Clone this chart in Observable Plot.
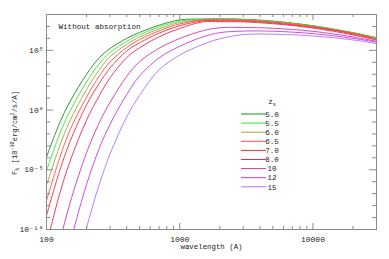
<!DOCTYPE html>
<html><head><meta charset="utf-8">
<script src="https://cdn.jsdelivr.net/npm/d3@7"></script>
<script src="https://cdn.jsdelivr.net/npm/@observablehq/plot@0.6"></script>
<style>body{margin:0;background:#fff}svg{display:block}</style>
</head><body><div id="chart"></div>
<script>
// wavelength grid (Angstrom)
const wavelengths = [100,125,150,200,250,300,400,500,700,1000,1500,2000,3000,5000,10000,20000,30000];
// source redshifts and line colours
const redshifts = ["5.0","5.5","6.0","6.5","7.0","8.0","10","12","15"];
const colors = ["#1f8a1f","#35e835","#a4a43a","#ff4d4d","#ff2a2a","#f0245a","#d236a8","#c43be6","#b070ff"];
// log10 of F_lambda for each redshift
const logF_z5_0 = [-3.94,-1.13,0.70,3.00,4.40,5.15,6.00,6.50,7.10,7.55,7.62,7.64,7.60,7.45,7.06,6.48,6.06];
const logF_z5_5 = [-5.10,-2.05,-0.10,2.36,3.90,4.82,5.75,6.31,6.95,7.44,7.60,7.61,7.58,7.42,7.04,6.47,6.04];
const logF_z6_0 = [-6.31,-3.08,-0.90,1.72,3.39,4.47,5.50,6.12,6.79,7.33,7.56,7.58,7.54,7.38,7.01,6.44,6.00];
const logF_z6_5 = [-7.57,-4.08,-1.69,1.09,2.88,4.03,5.24,5.91,6.63,7.21,7.53,7.54,7.50,7.35,6.98,6.41,5.96];
const logF_z7_0 = [-8.85,-5.15,-2.66,0.45,2.26,3.52,4.95,5.63,6.44,7.06,7.47,7.48,7.45,7.29,6.93,6.37,5.92];
const logF_z8_0 = [-11.26,-7.09,-4.30,-0.83,1.24,2.70,4.39,5.21,6.13,6.83,7.39,7.40,7.38,7.23,6.87,6.29,5.86];
const logF_z10 = [-16.11,-11.19,-7.81,-3.56,-1.01,0.65,2.82,4.05,5.18,5.99,6.65,6.89,6.91,6.85,6.59,6.12,5.76];
const logF_z12 = [-20.85,-15.19,-11.23,-6.22,-3.15,-1.19,1.30,2.86,4.37,5.34,6.13,6.48,6.61,6.60,6.40,6.00,5.68];
const logF_z15 = [-27.3,-20.58,-15.94,-9.86,-6.17,-3.68,-0.57,1.23,3.37,4.60,5.51,5.97,6.32,6.35,6.20,5.87,5.56];
const seriesLogF = [logF_z5_0,logF_z5_5,logF_z6_0,logF_z6_5,logF_z7_0,logF_z8_0,logF_z10,logF_z12,logF_z15];

// axis ticks and labels
const xMajorTicks = [100,1000,10000];
const xTickLabels = ["100","1000","10000"];
const xMinorTicks = [200,300,400,500,600,700,800,900,2000,3000,4000,5000,6000,7000,8000,9000,20000,30000];
const yMajorTicks = [1e-10,1e-5,1,1e5];
const yTickLabels = ["10\u207B\u00B9\u2070","10\u207B\u2075","10\u2070","10\u2075"];
const yMinorTicks = [1e-9,1e-8,1e-7,1e-6,1e-4,1e-3,1e-2,1e-1,1e1,1e2,1e3,1e4,1e6,1e7];

const rows = [];
redshifts.forEach((z, i) => {
  wavelengths.forEach((w, j) => rows.push({z, wavelength: w, flux: 10 ** seriesLogF[i][j]}));
});

const W = 389, H = 259, mL = 46, mR = 13, mT = 14, mB = 30;
const iW = W - mL - mR, iH = H - mT - mB;
const gray = "#8a8a8a";
const font = "Liberation Mono, DejaVu Sans Mono, monospace";

const chart = Plot.plot({
  width: W, height: H,
  marginLeft: mL, marginRight: mR, marginTop: mT, marginBottom: mB,
  style: {fontFamily: font, fontSize: "8px", color: "#222", background: "#fff"},
  x: {type: "log", domain: [100, 30000], label: null},
  y: {type: "log", domain: [1e-10, 1e8], label: null},
  color: {domain: redshifts, range: colors},
  marks: [
    Plot.line(rows, {x: "wavelength", y: "flux", z: "z", stroke: "z", strokeWidth: 0.9, curve: "catmull-rom", clip: true}),
    Plot.frame({stroke: gray}),
    // inward ticks: bottom/top
    Plot.tickX(xMajorTicks, {x: d => d, insetTop: iH - 6, stroke: gray}),
    Plot.tickX(xMinorTicks, {x: d => d, insetTop: iH - 3, stroke: gray}),
    Plot.tickX(xMajorTicks, {x: d => d, insetBottom: iH - 6, stroke: gray}),
    Plot.tickX(xMinorTicks, {x: d => d, insetBottom: iH - 3, stroke: gray}),
    // inward ticks: left/right
    Plot.tickY(yMajorTicks, {y: d => d, insetRight: iW - 7, stroke: gray}),
    Plot.tickY(yMinorTicks, {y: d => d, insetRight: iW - 4, stroke: gray}),
    Plot.tickY(yMajorTicks, {y: d => d, insetLeft: iW - 7, stroke: gray}),
    Plot.tickY(yMinorTicks, {y: d => d, insetLeft: iW - 4, stroke: gray}),
    Plot.axisX({ticks: xMajorTicks, tickSize: 0, tickPadding: 7, tickFormat: d => xTickLabels[xMajorTicks.indexOf(d)] ?? "", fontSize: 8}),
    Plot.axisY({ticks: yMajorTicks, tickSize: 0, tickPadding: 3, tickFormat: d => yTickLabels[yMajorTicks.findIndex(t => Math.abs(Math.log10(t) - Math.log10(d)) < 1e-6)] ?? "", fontSize: 8}),
    Plot.text(["Without absorption"], {frameAnchor: "top-left", dx: 12, dy: 9, fontSize: 7.6, textAnchor: "start", fill: "#222"}),
    Plot.text(["wavelength (A)"], {frameAnchor: "bottom", dy: 19, fontSize: 7.4, fill: "#222"})
  ]
});
document.getElementById("chart").appendChild(chart);

const svg = d3.select(chart);
// y label
const yl = svg.append("text")
  .attr("transform", "translate(17,133) rotate(-90)")
  .attr("text-anchor", "middle")
  .attr("font-family", font).attr("font-size", 7.2).attr("fill", "#222");
yl.append("tspan").text("F");
yl.append("tspan").attr("dy", 1.5).attr("font-size", 5).text("\u03BB");
yl.append("tspan").attr("dy", -1.5).text(" [10");
yl.append("tspan").attr("dy", -3).attr("font-size", 5).text("-30");
yl.append("tspan").attr("dy", 3).text("erg/cm");
yl.append("tspan").attr("dy", -3).attr("font-size", 5).text("2");
yl.append("tspan").attr("dy", 3).text("/s/A]");

// legend
const lg = svg.append("g").attr("font-family", font).attr("font-size", 7.6).attr("fill", "#222");
const hdr = lg.append("text").attr("x", 272).attr("y", 104);
hdr.append("tspan").text("z");
hdr.append("tspan").attr("dy", 1.5).attr("font-size", 5).text("s");
redshifts.forEach((z, i) => {
  const y = 114 + i * 9.1;
  lg.append("line").attr("x1", 241).attr("x2", 266).attr("y1", y).attr("y2", y)
    .attr("stroke", colors[i]).attr("stroke-width", 1);
  lg.append("text").attr("x", 272).attr("y", y + 2.7).text(z);
});
</script>
</body></html>
